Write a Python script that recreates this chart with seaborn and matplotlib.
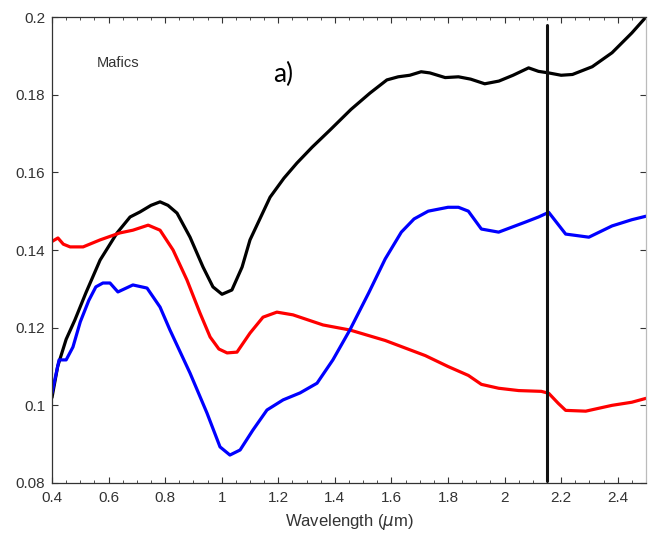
import numpy as np
import pandas as pd
import matplotlib
matplotlib.use("Agg")
import matplotlib.pyplot as plt
import seaborn as sns
from matplotlib.ticker import MultipleLocator

# ---- data ----
black_w = [0.40, 0.42, 0.45, 0.481, 0.52, 0.57, 0.63, 0.676, 0.711, 0.75, 0.782, 0.81, 0.842,
           0.888, 0.934, 0.969, 1.001, 1.036, 1.072, 1.10, 1.171, 1.22, 1.266, 1.32, 1.383,
           1.457, 1.524, 1.584, 1.624, 1.665, 1.705, 1.736, 1.79, 1.837, 1.88, 1.93, 1.98,
           2.03, 2.085, 2.12, 2.156, 2.20, 2.24, 2.31, 2.38, 2.45, 2.50]
black_v = [0.102, 0.110, 0.117, 0.122, 0.129, 0.1374, 0.1444, 0.1485, 0.1498, 0.1515, 0.1524,
           0.1515, 0.1495, 0.1433, 0.1356, 0.1305, 0.1286, 0.1297, 0.1356, 0.1426, 0.1536,
           0.1585, 0.1624, 0.1665, 0.1709, 0.1762, 0.1804, 0.1838, 0.1846, 0.1850, 0.1859,
           0.1856, 0.1844, 0.1846, 0.184, 0.1828, 0.1835, 0.185, 0.1869, 0.186, 0.1856,
           0.1850, 0.1852, 0.1872, 0.1908, 0.1959, 0.2]

red_w = [0.40, 0.421, 0.44, 0.464, 0.51, 0.57, 0.64, 0.686, 0.74, 0.782, 0.828, 0.877, 0.923,
         0.959, 0.99, 1.019, 1.054, 1.10, 1.146, 1.195, 1.252, 1.358, 1.453, 1.578, 1.72,
         1.80, 1.872, 1.918, 1.979, 2.05, 2.13, 2.156, 2.19, 2.216, 2.287, 2.38, 2.45, 2.50]
red_v = [0.1422, 0.1431, 0.1415, 0.1408, 0.1408, 0.1426, 0.1444, 0.1451, 0.1464, 0.1451,
         0.140, 0.1323, 0.1238, 0.1176, 0.1145, 0.1135, 0.1137, 0.1186, 0.1227, 0.124, 0.1233,
         0.1207, 0.1194, 0.1167, 0.1128, 0.110, 0.1077, 0.1054, 0.1044, 0.1038, 0.1036,
         0.1031, 0.1005, 0.0987, 0.0985, 0.1, 0.1008, 0.1018]

blue_w = [0.40, 0.425, 0.45, 0.474, 0.50, 0.53, 0.555, 0.58, 0.605, 0.633, 0.686, 0.736,
          0.782, 0.817, 0.888, 0.948, 0.994, 1.029, 1.065, 1.11, 1.16, 1.217, 1.277, 1.337,
          1.393, 1.453, 1.52, 1.578, 1.635, 1.68, 1.73, 1.80, 1.837, 1.872, 1.918, 1.979,
          2.074, 2.12, 2.156, 2.216, 2.298, 2.38, 2.45, 2.50]
blue_v = [0.1032, 0.1117, 0.1117, 0.115, 0.1215, 0.127, 0.1305, 0.1315, 0.1315, 0.1292,
          0.131, 0.1302, 0.1253, 0.1194, 0.1083, 0.098, 0.0893, 0.0872, 0.0885, 0.0936,
          0.0988, 0.1014, 0.1032, 0.1057, 0.1117, 0.1194, 0.129, 0.1377, 0.1446, 0.148,
          0.150, 0.151, 0.151, 0.150, 0.1454, 0.1446, 0.1472, 0.1485, 0.1497, 0.1441,
          0.1433, 0.1462, 0.1478, 0.1487]

marker_wavelength = 2.15
x_ticks = [0.4, 0.6, 0.8, 1.0, 1.2, 1.4, 1.6, 1.8, 2.0, 2.2, 2.4]
x_tick_labels = ["0.4", "0.6", "0.8", "1", "1.2", "1.4", "1.6", "1.8", "2", "2.2", "2.4"]
y_ticks = [0.08, 0.1, 0.12, 0.14, 0.16, 0.18, 0.2]
y_tick_labels = ["0.08", "0.1", "0.12", "0.14", "0.16", "0.18", "0.2"]

df = pd.concat([
    pd.DataFrame({"w": black_w, "v": black_v, "s": "black"}),
    pd.DataFrame({"w": red_w, "v": red_v, "s": "red"}),
    pd.DataFrame({"w": blue_w, "v": blue_v, "s": "blue"}),
], ignore_index=True)

sns.set_style("ticks")
plt.rcParams["font.family"] = ["Liberation Sans", "DejaVu Sans"]

fig = plt.figure(figsize=(6.48, 5.37), dpi=100)
ax = fig.add_axes([52 / 648, 1 - 483 / 537, 594 / 648, 466 / 537])

sns.lineplot(data=df, x="w", y="v", hue="s", sort=False, estimator=None,
             palette={"black": "#000000", "red": "#ff0000", "blue": "#0000ff"},
             linewidth=2.3, legend=False, ax=ax)
for ln in ax.lines:
    ln.set_solid_joinstyle("round")
    ln.set_solid_capstyle("round")

ax.plot([marker_wavelength, marker_wavelength], [0.0805, 0.198], color="#111111", lw=2.2)

ax.set_xlim(0.4, 2.5)
ax.set_ylim(0.08, 0.2)
ax.set_xticks(x_ticks)
ax.set_xticklabels(x_tick_labels)
ax.set_yticks(y_ticks)
ax.set_yticklabels(y_tick_labels)
ax.xaxis.set_minor_locator(MultipleLocator(0.05))
ax.tick_params(axis="both", which="both", direction="in", top=True, right=True,
               labelsize=11, labelcolor="#333333", color="#333333")
ax.tick_params(axis="x", which="major", pad=6)
ax.tick_params(axis="y", which="major", pad=5)
ax.tick_params(which="major", length=4, width=0.8)
ax.tick_params(which="minor", length=2.5, width=0.6)
for sp in ax.spines.values():
    sp.set_color("#333333")
    sp.set_linewidth(0.9)
    sp.set_visible(True)
ax.spines["right"].set_color("#bbbbbb")

ax.set_xlabel("Wavelength ($\\mu$m)", fontsize=12, color="#333333", labelpad=5)
ax.set_ylabel("")

ax.text(0.559, 0.1882, "Mafics", fontsize=10.5, color="#333333", va="center", ha="left")
ax.text(1.18, 0.1851, "a)", fontsize=19, color="#000000", va="center", ha="left",
        family=["Lato", "DejaVu Sans"])

fig.savefig("out.png", dpi=100)
